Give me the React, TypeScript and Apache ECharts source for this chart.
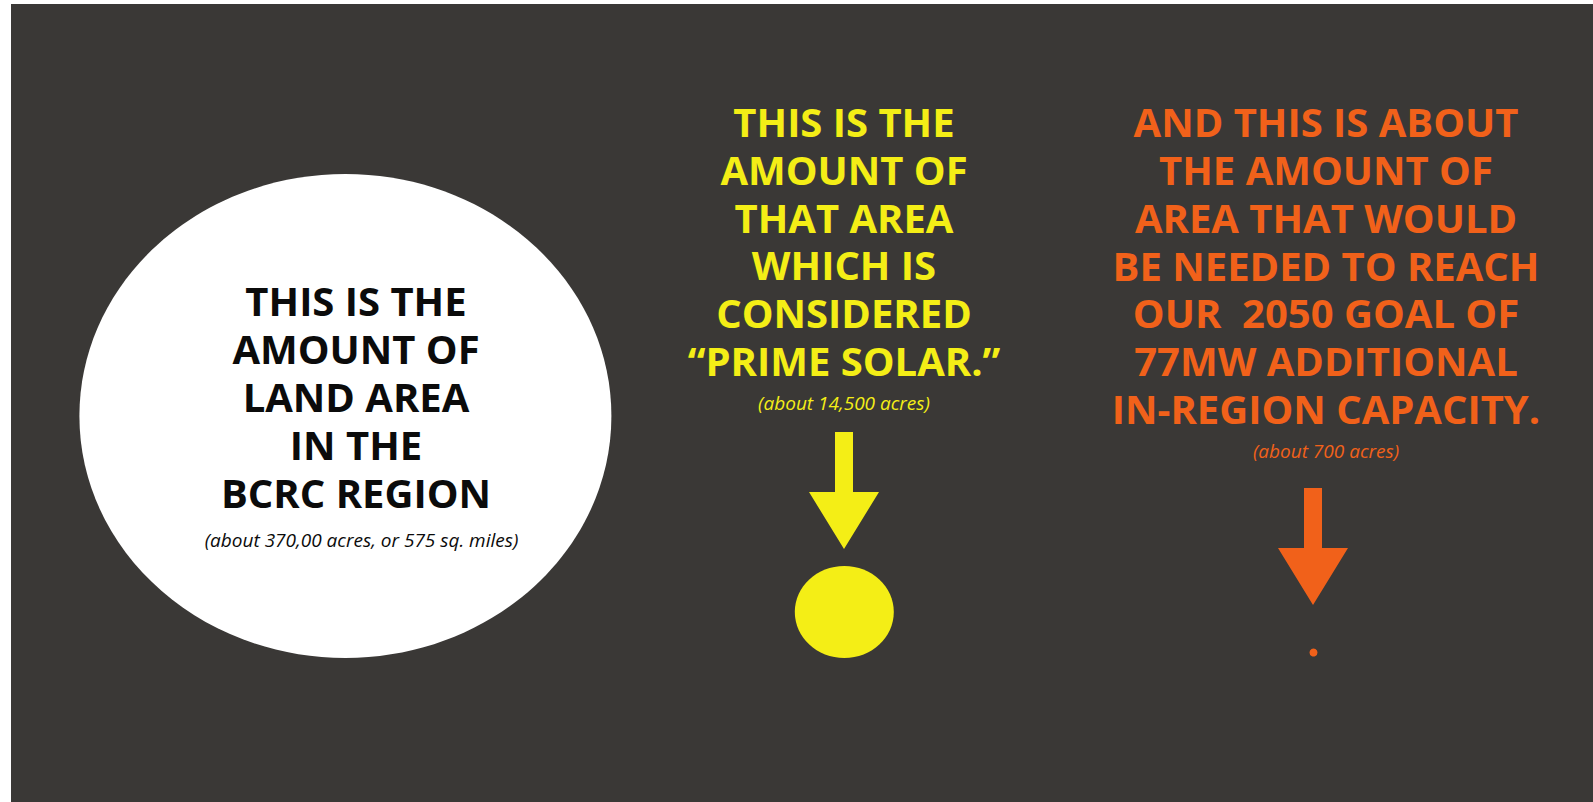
import React, { useEffect, useRef } from "react";
import * as echarts from "echarts";

// ---- data ----
const panelKeys = ["bcrc", "prime", "goal"];
const acres = [370000, 14500, 700];
const headlines = [
  ["THIS IS THE", "AMOUNT OF", "LAND AREA", "IN THE", "BCRC REGION"],
  ["THIS IS THE", "AMOUNT OF", "THAT AREA", "WHICH IS", "CONSIDERED", "\u201CPRIME SOLAR.\u201D"],
  [
    "AND THIS IS ABOUT",
    "THE AMOUNT OF",
    "AREA THAT WOULD",
    "BE NEEDED TO REACH",
    "OUR  2050 GOAL OF",
    "77MW ADDITIONAL",
    "IN-REGION CAPACITY.",
  ],
];
const subtitles = [
  "(about 370,00 acres, or 575 sq. miles)",
  "(about 14,500 acres)",
  "(about 700 acres)",
];

// ---- layout / style ----
const W = 1593;
const H = 802;
const BG = "#3a3836";
const COLORS = ["#0b0b0b", "#f4ee16", "#f1611a"];
const FONT = "'Open Sans', 'Noto Sans', sans-serif";
const LINE_H = 47.8;

export default function App() {
  const ref = useRef<HTMLDivElement>(null);

  useEffect(() => {
    if (!ref.current) return;
    const chart = echarts.init(ref.current, null, { renderer: "svg" });

    // one text element per headline line, centred on (x, firstLineY + k*LINE_H)
    const headlineText = (i: number, x: number, firstY: number) =>
      headlines[i].map((line, k) => ({
        type: "text",
        x,
        y: firstY + k * LINE_H,
        style: {
          text: line,
          fill: COLORS[i],
          fontFamily: FONT,
          fontWeight: "bold",
          fontSize: 40,
          align: "center",
          verticalAlign: "middle",
        },
      }));
    const subText = (i: number, x: number, y: number, size: number) => ({
      type: "text",
      x,
      y,
      style: {
        text: subtitles[i],
        fill: COLORS[i],
        fontFamily: FONT,
        fontStyle: "italic",
        fontSize: size,
        align: "center",
        verticalAlign: "middle",
      },
    });
    const arrow = (cx: number, top: number, color: string) => {
      const sw = 9; // half shaft width
      const hw = 35; // half head width
      const shaft = 60;
      const head = 57;
      return {
        type: "polygon",
        shape: {
          points: [
            [cx - sw, top],
            [cx + sw, top],
            [cx + sw, top + shaft],
            [cx + hw, top + shaft],
            [cx, top + shaft + head],
            [cx - hw, top + shaft],
            [cx - sw, top + shaft],
          ],
        },
        style: { fill: color },
      };
    };

    const first = (center: number, n: number) => center - ((n - 1) * LINE_H) / 2;

    chart.setOption({
      animation: false,
      backgroundColor: "#ffffff",
      graphic: [
        {
          type: "rect",
          shape: { x: 11, y: 4, width: W - 11, height: H - 4 },
          style: { fill: BG },
        },
        // BCRC region
        {
          type: "ellipse",
          shape: { cx: 345.4, cy: 416, rx: 266, ry: 242 },
          style: { fill: "#ffffff" },
        },
        ...headlineText(0, 356, first(396.5, headlines[0].length)),
        subText(0, 361.5, 539.5, 19),
        // prime solar
        ...headlineText(1, 844, first(241, headlines[1].length)),
        subText(1, 844, 402.5, 19),
        arrow(844, 432, COLORS[1]),
        {
          type: "ellipse",
          shape: { cx: 844.3, cy: 612, rx: 49.5, ry: 46 },
          style: { fill: COLORS[1] },
        },
        // goal
        ...headlineText(2, 1326, first(265, headlines[2].length)),
        subText(2, 1326, 450.5, 19),
        arrow(1313, 488, COLORS[2]),
        {
          type: "circle",
          shape: { cx: 1313.5, cy: 652.5, r: 4 },
          style: { fill: COLORS[2] },
        },
      ],
    });

    void panelKeys;
    void acres;
    return () => chart.dispose();
  }, []);

  return (
    <div
      ref={ref}
      style={{ position: "fixed", left: 0, top: 0, width: W, height: H }}
    />
  );
}
